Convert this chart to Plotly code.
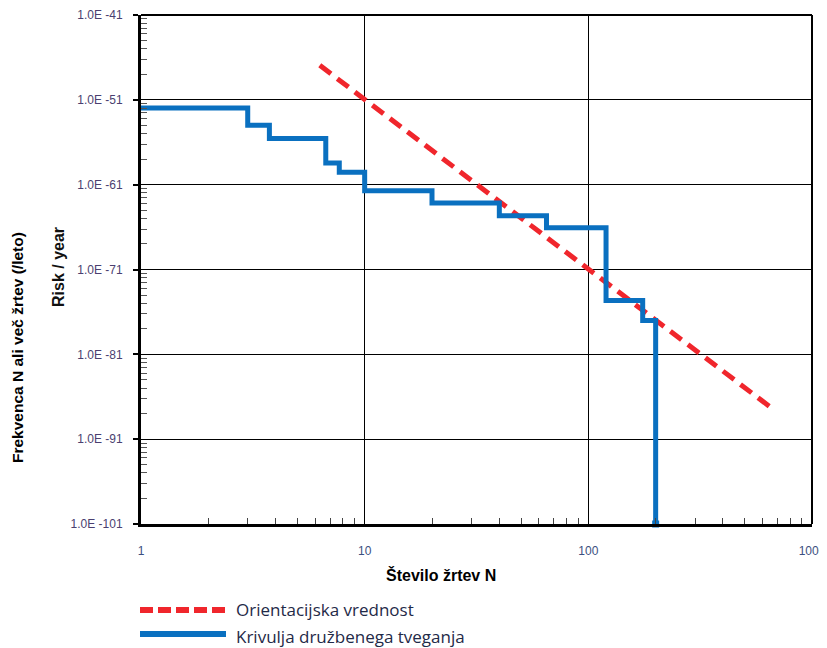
import plotly.graph_objects as go

# ---- data ----
x_ticks = [1, 10, 100, 1000]
x_tick_labels = ["1", "10", "100", "1000"]
y_ticks = [1e-4, 1e-5, 1e-6, 1e-7, 1e-8, 1e-9, 1e-10]
y_tick_labels = ["1.0E -41", "1.0E -51", "1.0E -61", "1.0E -71", "1.0E -81", "1.0E -91", "1.0E -101"]

# societal risk curve (F-N), step curve
fn_N = [1, 3, 3.75, 6.7, 7.7, 10, 20, 40, 65, 120, 175, 200]
fn_F = [8e-6, 5e-6, 3.5e-6, 1.8e-6, 1.4e-6, 8.5e-7, 6.1e-7, 4.3e-7, 3.1e-7, 4.3e-8, 2.5e-8, 1e-10]

# orientation value (criterion line)
crit_N = [6.3, 650]
crit_F = [2.55e-5, 2.4e-9]

legend_labels = ["Orientacijska vrednost", "Krivulja družbenega tveganja"]

RED = "#f0262c"
BLUE = "#0a70c0"

# minor tick positions on log axes
x_minor = [m * 10 ** d for d in range(0, 3) for m in range(2, 10)]
y_minor = [m * 10.0 ** d for d in range(-10, -4) for m in range(2, 10)]

fig = go.Figure()
fig.add_trace(go.Scatter(x=crit_N, y=crit_F, mode="lines",
                         line=dict(color=RED, width=5, dash="14px,8px"),
                         name=legend_labels[0], showlegend=False))
fig.add_trace(go.Scatter(x=fn_N, y=fn_F, mode="lines", line_shape="hv",
                         line=dict(color=BLUE, width=5),
                         name=legend_labels[1], showlegend=False))
# small end marker at the bottom of the curve
fig.add_trace(go.Scatter(x=fn_N[-1:], y=fn_F[-1:], mode="markers",
                         marker=dict(color=BLUE, size=7, symbol="square"),
                         cliponaxis=False, showlegend=False, hoverinfo="skip"))

OFF = 8  # default page margin of the html body
W, H = 819, 640
L, T = 141 - OFF, 15 - OFF
R = W - (812 - OFF)
B = H - (524 - OFF)
pw, ph = W - L - R, H - T - B

def px_x(p):
    return (p - OFF - L) / pw

def px_y(p):
    return (H - B - (p - OFF)) / ph

fig.update_layout(
    width=W, height=H,
    margin=dict(l=L, r=R, t=T, b=B, autoexpand=False),
    paper_bgcolor="white", plot_bgcolor="white",
    font=dict(family="Liberation Sans, Arial", size=12, color="#000"),
    xaxis=dict(
        type="log", range=[0, 3], automargin=False,
        tickmode="array", tickvals=x_ticks, ticktext=x_tick_labels,
        ticks="", ticklabelstandoff=14,
        tickfont=dict(family="Liberation Sans, Arial", size=12, color="#3c4f80"),
        showgrid=True, gridcolor="#000", gridwidth=1,
        showline=True, linecolor="#000", linewidth=3,
        zeroline=False,
        minor=dict(tickmode="array", tickvals=x_minor, ticks="inside",
                   ticklen=6, tickwidth=1, tickcolor="#444", showgrid=False),
    ),
    yaxis=dict(
        type="log", range=[-10, -4], automargin=False,
        tickmode="array", tickvals=y_ticks, ticktext=y_tick_labels,
        ticks="outside", ticklen=5, tickwidth=2, tickcolor="#000",
        ticklabelstandoff=8,
        tickfont=dict(family="Liberation Sans, Arial", size=12, color="#4a3f70"),
        showgrid=True, gridcolor="#000", gridwidth=1,
        showline=True, linecolor="#000", linewidth=3,
        zeroline=False,
        minor=dict(tickmode="array", tickvals=y_minor, ticks="inside",
                   ticklen=6, tickwidth=1, tickcolor="#555", showgrid=False),
    ),
    showlegend=False,
)

# top and right frame lines (thinner)
fig.add_shape(type="line", xref="paper", yref="paper", x0=0, x1=1, y0=1, y1=1,
              line=dict(color="#000", width=2))
fig.add_shape(type="line", xref="paper", yref="paper", x0=1, x1=1, y0=0, y1=1,
              line=dict(color="#000", width=2))

# axis titles
fig.add_annotation(text="<b>Število žrtev N</b>", xref="paper", yref="paper",
                   x=px_x(441), y=px_y(575), xanchor="center", yanchor="middle",
                   showarrow=False,
                   font=dict(family="Liberation Sans, Arial", size=16, color="#000"))
fig.add_annotation(text="<b>Risk / year</b>", xref="paper", yref="paper",
                   x=px_x(58), y=px_y(267), xanchor="center", yanchor="middle",
                   showarrow=False, textangle=-90,
                   font=dict(family="Liberation Sans, Arial", size=16, color="#111"))
fig.add_annotation(text="<b>Frekvenca N ali več žrtev (/leto)</b>", xref="paper", yref="paper",
                   x=px_x(17), y=px_y(348), xanchor="center", yanchor="middle",
                   showarrow=False, textangle=-90,
                   font=dict(family="Liberation Sans, Arial", size=15.5, color="#000"))

# legend (drawn below the plot)
fig.add_shape(type="line", xref="paper", yref="paper",
              x0=px_x(140), x1=px_x(226), y0=px_y(610), y1=px_y(610),
              line=dict(color=RED, width=6, dash="13px,5px"))
fig.add_shape(type="line", xref="paper", yref="paper",
              x0=px_x(140), x1=px_x(226), y0=px_y(634), y1=px_y(634),
              line=dict(color=BLUE, width=6))
fig.add_annotation(text=legend_labels[0], xref="paper", yref="paper",
                   x=px_x(234), y=px_y(609), xanchor="left", yanchor="middle",
                   showarrow=False,
                   font=dict(family="Open Sans", size=17, color="#1f2a48"))
fig.add_annotation(text=legend_labels[1], xref="paper", yref="paper",
                   x=px_x(234), y=px_y(636), xanchor="left", yanchor="middle",
                   showarrow=False,
                   font=dict(family="Open Sans", size=17, color="#1f2a48"))

fig.write_html("out.html")
